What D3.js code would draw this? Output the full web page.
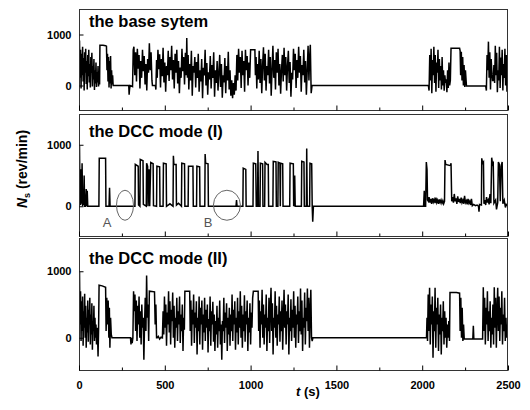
<!DOCTYPE html>
<html>
<head>
<meta charset="utf-8">
<script src="https://cdn.jsdelivr.net/npm/d3@7"></script>
<style>
  body { margin: 0; background: #fff; }
  svg { display: block; font-family: "Liberation Sans", Arial, sans-serif; }
</style>
</head>
<body>
<svg id="chart" width="530" height="410"></svg>
<script>
// time axis ticks
const xMajor = [0, 500, 1000, 1500, 2000, 2500];
const xMinor = [250, 750, 1250, 1750, 2250];
const yTicks = [0, 1000];

const titles = ['the base sytem', 'the DCC mode (I)', 'the DCC mode (II)'];

// [t (s), Ns (rev/min)]
const baseSystem = [
  [0,250],[3,880],[6,150],[9,700],[12,-60],[15,620],[18,200],[21,760],[24,80],[27,540],[30,-100],[33,650],[36,250],[39,720],[42,30],[45,480],[48,-80],[51,600],[54,180],[57,700],[60,60],[63,420],[66,-40],[69,560],[72,250],[75,640],[78,-20],[81,380],[84,120],[87,520],[90,-90],[93,300],[96,40],[99,450],[102,-30],[105,260],[108,60],[111,380],[114,-20],[117,200],[120,20],
  [122,790],[140,790],[155,780],[160,770],[163,300],[166,620],[169,80],[172,560],[175,-40],[178,480],[181,40],[184,580],[187,-60],[190,300],[193,20],[196,200],[199,0],
  [290,0],[292,-180],[295,-60],[298,0],[312,-20],[316,700],
  [320,760],[325,200],[330,650],[335,80],[340,720],[345,330],[350,600],[355,-60],[360,480],[365,150],[370,700],[375,280],[380,580],[385,20],[390,420],[395,-100],[400,520],[405,250],[410,830],[415,300],[420,650],[425,100],[428,0],[445,0],[448,-80],
  [452,500],[456,150],[460,700],[465,320],[470,610],[475,-40],[480,520],[485,180],[490,740],[495,60],[500,450],[505,-120],[510,380],[515,200],[520,680],[525,90],[530,560],[535,300],[540,780],[545,120],[550,500],[555,-60],[560,620],[565,250],[570,700],[575,40],[580,480],[585,-150],[590,350],[595,150],[600,720],[605,280],[610,560],[615,20],[620,640],[625,200],[628,930],[632,150],[636,600],[640,-80],
  [645,420],[650,100],[655,680],[660,-200],[665,380],[670,250],[675,560],[680,-40],[685,460],[690,150],[695,620],[700,-120],[705,300],[710,80],[715,520],[720,-250],[725,350],[730,200],[735,700],[740,0],[745,440],[750,-180],[755,260],[760,120],[765,580],[770,-60],[775,400],[780,150],[785,650],[790,-220],[795,300],[800,50],[805,480],[810,-100],[815,250],[820,600],[825,-30],[830,420],[835,-240],[840,200],[845,60],[850,540],[855,-150],[860,380],[865,100],[870,660],[875,-80],[880,300],[885,-200],[890,100],[895,-250],[900,50],[905,-180],[910,200],[915,-100],
  [920,600],[925,100],[930,720],[935,250],[940,560],[945,-50],[950,680],[955,200],[960,480],[965,-120],[970,700],[975,300],[980,580],[985,0],[990,450],[995,150],[1000,700],[1025,700],[1028,200],[1032,560],[1036,-60],[1040,420],[1045,120],[1050,680],[1055,50],[1060,520],[1065,-150],[1070,400],[1075,750],[1080,100],[1085,620],[1090,-100],[1095,380],[1100,200],[1105,700],[1110,40],[1115,560],[1120,-200],[1125,300],[1130,780],[1135,150],[1140,500],[1145,-80],[1150,650],[1155,250],[1160,720],[1165,0],[1170,420],[1175,-160],[1180,300],[1185,600],[1190,80],[1195,740],[1200,200],
  [1205,560],[1210,-100],[1215,380],[1220,680],[1225,50],[1230,460],[1235,-220],[1240,250],[1245,120],[1250,720],[1255,300],[1260,620],[1265,-50],[1270,500],[1275,150],[1280,760],[1285,250],[1290,580],[1295,-120],[1300,400],[1305,200],[1310,700],[1315,60],[1320,480],[1325,-180],[1330,300],[1335,780],[1340,100],[1344,560],[1348,800],[1353,-150],[1358,0],
  [2036,0],[2040,-100],[2044,600],[2048,100],[2052,720],[2056,-150],[2060,500],[2064,200],[2068,760],[2072,50],[2076,600],[2080,-120],[2084,450],[2088,250],[2092,700],[2096,-50],[2100,520],[2104,100],[2108,380],[2112,-80],[2116,560],[2120,0],[2124,300],[2128,-100],[2132,200],[2136,50],[2140,120],[2144,-130],[2148,300],[2152,-50],[2156,450],[2160,0],[2164,100],[2168,730],[2218,730],[2221,680],[2224,200],[2228,660],[2232,100],[2236,560],[2240,0],[2244,400],[2248,-30],[2252,300],[2258,-10],
  [2370,-10],[2374,-100],[2378,600],[2382,300],[2386,860],[2390,150],[2394,650],[2398,-80],[2402,520],[2406,250],[2410,100],[2414,100],[2418,400],[2422,50],[2426,780],[2430,200],[2434,640],[2438,-130],[2442,300],[2446,100],[2450,760],[2454,-50],[2458,550],[2462,200],[2466,700],[2470,-100],[2474,420],[2478,150],[2482,720],[2486,0],[2490,600],[2494,-120],[2498,300],[2500,200]
];

const dccOne = [
  [0,0],[3,980],[6,50],[9,20],[12,600],[15,40],[18,700],[21,0],[24,150],[27,20],[30,500],[33,0],[38,0],[42,280],[45,0],[48,250],[51,0],[56,0],
  [116,0],[118,780],[155,780],[157,0],[175,0],[178,300],[181,0],
  [326,0],[328,680],[345,650],[347,20],[355,0],[357,760],[373,740],[375,30],[392,0],[394,700],[400,650],[402,0],[408,600],[412,0],[418,710],[432,690],[434,10],[452,0],[454,650],[470,640],[472,0],[490,0],[492,700],[508,690],[510,0],[530,40],[548,0],[550,820],[553,680],[566,680],[568,20],[580,50],[597,0],[599,700],[615,690],[617,0],[636,0],[638,650],[664,650],[666,0],[685,0],[687,650],[703,640],[705,0],[733,0],[735,850],[738,700],[752,690],[754,0],
  [783,0],[915,0],[918,100],[921,0],[955,0],[957,620],[972,600],[974,0],[1014,0],[1016,700],[1030,690],[1033,0],[1040,0],[1043,900],[1046,0],[1055,0],[1057,700],[1070,690],[1072,0],[1082,0],[1084,715],[1096,680],[1103,680],[1105,0],[1130,0],[1132,730],[1148,720],[1150,0],[1159,0],[1161,715],[1171,700],[1173,0],[1175,700],[1187,690],[1189,0],[1228,0],[1230,700],[1249,690],[1251,0],[1257,500],[1260,0],[1296,0],[1298,730],[1311,720],[1313,0],[1325,0],[1327,940],[1330,0],[1344,0],[1346,700],[1356,690],[1359,0],[1362,-250],[1366,0],
  [2008,0],[2012,250],[2015,0],[2020,0],[2024,720],[2028,600],[2031,100],[2036,80],[2040,150],[2045,60],[2050,120],[2055,40],[2060,130],[2065,70],[2070,110],[2075,50],[2080,140],[2085,60],[2090,100],[2095,40],[2100,110],[2105,60],[2110,100],[2115,50],[2120,90],[2125,40],[2130,80],[2133,750],[2137,680],[2165,660],[2168,700],[2172,80],
  [2177,150],[2182,60],[2187,200],[2192,80],[2197,130],[2202,40],[2207,160],[2212,70],[2217,120],[2222,50],[2227,140],[2232,60],[2237,100],[2242,40],[2247,170],[2252,60],[2257,90],[2262,30],[2267,120],[2272,50],[2277,80],[2282,20],[2287,120],[2292,10],[2300,30],[2310,10],[2320,20],[2328,0],[2331,-90],[2334,30],[2345,20],[2347,780],[2352,700],[2357,720],[2360,40],[2365,100],[2370,20],[2375,150],[2380,60],[2385,100],[2390,30],[2395,200],[2400,50],[2405,790],[2410,680],[2414,700],[2418,50],[2428,100],[2433,-50],[2440,60],[2444,720],[2450,680],[2455,80],[2460,650],[2466,720],[2470,40],[2478,100],[2485,-20],[2490,30],[2500,0]
];

const dccTwo = [
  [0,50],[3,990],[6,200],[9,700],[12,-50],[15,550],[18,100],[21,620],[24,-120],[27,400],[30,150],[33,660],[36,0],[39,480],[42,-150],[45,300],[48,80],[51,560],[54,-60],[57,420],[60,200],[63,600],[66,-100],[69,350],[72,50],[75,520],[78,-180],[81,250],[84,100],[87,480],[90,-50],[93,300],[96,0],[99,200],[102,-100],[105,150],[108,50],[111,-280],[114,100],
  [117,790],[135,780],[155,760],[158,100],[162,600],[166,200],[170,560],[174,0],[177,450],[180,-150],[184,300],[188,50],[192,0],
  [300,0],[303,-100],[306,0],[310,-80],[314,0],[318,700],[322,400],[326,650],[330,100],[334,560],[338,-50],[342,480],[346,200],[350,620],[354,0],[358,400],[362,-100],[366,500],[370,150],[374,300],[378,-330],[382,200],[386,600],[390,100],[394,935],[398,300],[402,500],[406,-50],[410,700],[440,690],[444,200],[448,500],[452,0],[456,0],[462,20],[470,-20],[478,10],[486,0],
  [490,400],[494,50],[498,620],[502,150],[506,500],[510,-120],[514,380],[518,200],[522,700],[526,80],[530,550],[534,-100],[538,420],[542,250],[546,680],[550,0],[554,480],[558,-150],[562,300],[566,150],[570,600],[574,-50],[578,400],[582,200],[586,620],[590,-80],[594,350],[598,100],[602,500],[606,-200],[610,300],[614,120],[617,700],[645,700],[648,100],
  [652,560],[656,-120],[660,420],[664,200],[668,650],[672,-80],[676,380],[680,150],[684,550],[688,-250],[692,300],[696,100],[700,620],[704,-100],[708,450],[712,200],[716,560],[720,-180],[724,350],[728,80],[732,600],[736,-50],[740,420],[744,150],[748,500],[752,-220],[756,280],[760,100],[764,620],[768,-120],[772,400],[776,200],[780,540],[784,-60],[788,350],[792,-200],[796,250],[800,50],[804,480],[808,-150],[812,300],[816,100],[820,560],[824,-100],[828,200],[832,-330],[836,250],[840,100],[844,600],[848,-80],[852,380],[856,150],[860,520],[864,-200],[868,300],[872,50],[876,450],[880,-120],
  [884,350],[888,100],[892,650],[896,-50],[900,420],[904,200],[908,550],[912,-180],[916,300],[920,80],[924,600],[928,-100],[932,400],[936,150],[940,700],[944,0],[948,480],[952,-150],[956,350],[960,100],[964,640],[968,-60],[972,400],[976,200],[980,560],[984,-200],[988,300],[992,80],[996,520],[1000,-100],[1004,380],[1008,150],[1012,600],[1016,700],[1044,700],[1047,100],
  [1051,560],[1055,-150],[1059,400],[1063,200],[1067,720],[1071,0],[1075,500],[1079,-100],[1083,350],[1087,150],[1091,650],[1095,-200],[1099,300],[1103,100],[1107,600],[1111,-80],[1115,450],[1119,750],[1123,100],[1127,520],[1131,-250],[1135,300],[1139,150],[1143,700],[1147,0],[1151,480],[1155,-120],[1159,350],[1163,200],[1167,620],[1171,-60],[1175,400],[1179,100],[1183,560],[1187,-180],[1191,300],[1195,720],[1199,150],[1203,500],[1207,-100],[1211,400],[1215,200],[1219,650],[1223,-250],[1227,300],[1231,100],[1235,580],[1239,-50],[1243,420],[1247,150],[1251,700],[1255,0],[1259,480],[1263,-150],[1267,350],[1271,200],[1275,620],[1279,-80],[1283,400],[1287,100],[1291,740],[1295,50],[1299,560],[1303,-200],[1307,300],[1311,150],[1315,680],[1319,-100],[1323,450],[1327,250],[1331,740],[1335,100],[1339,600],[1343,-150],[1347,400],[1351,720],[1355,0],[1359,-50],[1363,0],
  [2025,0],[2028,300],[2031,-50],[2035,650],[2039,100],[2043,750],[2047,-100],[2051,500],[2055,200],[2059,620],[2063,-300],[2067,400],[2071,100],[2075,750],[2079,-150],[2083,450],[2087,200],[2091,600],[2095,-200],[2099,350],[2103,50],[2107,500],[2111,-250],[2115,300],[2119,100],[2123,550],[2127,-100],[2131,400],[2135,0],[2139,300],[2143,-150],[2147,200],[2151,0],[2155,250],[2159,-50],
  [2162,680],[2200,680],[2218,670],[2221,100],[2225,600],[2229,0],[2233,450],[2237,-50],[2241,200],[2245,-20],[2295,-20],[2298,180],[2301,-20],[2352,-20],
  [2356,760],[2360,100],[2364,600],[2368,-100],[2372,450],[2376,200],[2380,700],[2384,-50],[2388,400],[2392,100],[2396,550],[2400,-150],[2404,300],[2408,50],[2412,500],[2416,-100],[2420,760],[2424,150],[2428,600],[2432,-150],[2436,400],[2440,750],[2444,100],[2448,620],[2452,-50],[2456,450],[2460,200],[2464,700],[2468,-100],[2472,350],[2476,100],[2480,600],[2484,-50],[2488,300],[2492,0],[2496,200],[2500,0]
];

// circled regions in the DCC (I) panel: [label, t centre, label t]
const marks = [['A', 268, 163], ['B', 862, 752]];

const svg = d3.select('#chart');
const left = 79, right = 508;

const x = d3.scaleLinear().domain([0, 2500]).range([left, right]);

const panels = [
  { title: titles[0], data: baseSystem, top: 9, bottom: 111, titleY: 27 },
  { title: titles[1], data: dccOne, top: 114, bottom: 237, titleY: 137 },
  { title: titles[2], data: dccTwo, top: 238, bottom: 371, titleY: 264 }
];

panels.forEach((p, i) => {
  const y = d3.scaleLinear().domain([-500, 1500]).range([p.bottom, p.top]);
  const last = i === panels.length - 1;

  const clipId = 'clip' + i;
  svg.append('clipPath').attr('id', clipId)
    .append('rect')
    .attr('x', left).attr('y', p.top)
    .attr('width', right - left).attr('height', p.bottom - p.top);

  // trace
  const line = d3.line()
    .x(d => x(d[0]))
    .y(d => y(d[1]));

  svg.append('path')
    .datum(p.data)
    .attr('clip-path', `url(#${clipId})`)
    .attr('fill', 'none')
    .attr('stroke', '#000')
    .attr('stroke-width', 1.5)
    .attr('stroke-linejoin', 'miter')
    .attr('d', line);

  // frame
  svg.append('rect')
    .attr('x', left + 0.5).attr('y', p.top + 0.5)
    .attr('width', right - left - 1).attr('height', p.bottom - p.top - 1)
    .attr('fill', 'none')
    .attr('stroke', '#333')
    .attr('stroke-width', 1);

  // bottom ticks, pointing inward
  const xAxis = svg.append('g')
    .attr('transform', `translate(0,${p.bottom - 0.5})`)
    .call(d3.axisBottom(x).tickValues(xMajor).tickSizeInner(-5).tickSizeOuter(0)
      .tickPadding(11).tickFormat(last ? d3.format('d') : () => ''));
  xAxis.select('.domain').remove();
  xAxis.selectAll('text')
    .attr('font-size', 11).attr('font-weight', 'bold').attr('fill', '#000')
    .attr('font-family', '"Liberation Sans", Arial, sans-serif');

  const xMin = svg.append('g')
    .attr('transform', `translate(0,${p.bottom - 0.5})`)
    .call(d3.axisBottom(x).tickValues(xMinor).tickSizeInner(-3).tickSizeOuter(0).tickFormat(() => ''));
  xMin.select('.domain').remove();

  // left ticks
  const yAxis = svg.append('g')
    .attr('transform', `translate(${left + 0.5},0)`)
    .call(d3.axisLeft(y).tickValues(yTicks).tickSizeInner(-4).tickSizeOuter(0)
      .tickPadding(8).tickFormat(d3.format('d')));
  yAxis.select('.domain').remove();
  yAxis.selectAll('text')
    .attr('font-size', 11).attr('font-weight', 'bold').attr('fill', '#000')
    .attr('font-family', '"Liberation Sans", Arial, sans-serif');

  // panel title
  svg.append('text')
    .attr('x', 89).attr('y', p.titleY)
    .attr('font-size', 16.5)
    .attr('font-weight', 'bold')
    .text(p.title);

  // circled regions
  if (i === 1) {
    marks.forEach(([name, tc, tl], k) => {
      svg.append('ellipse')
        .attr('cx', x(tc)).attr('cy', y(0) - 1)
        .attr('rx', k === 0 ? 8.5 : 13.5).attr('ry', 15)
        .attr('fill', 'none')
        .attr('stroke', '#666')
        .attr('stroke-width', 1);
      svg.append('text')
        .attr('x', x(tl)).attr('y', y(0) + 21)
        .attr('text-anchor', 'middle')
        .attr('font-size', 13)
        .attr('fill', '#555')
        .text(name);
    });
  }
});

// axis titles
svg.append('text')
  .attr('x', 308).attr('y', 396)
  .attr('text-anchor', 'middle')
  .attr('font-size', 13).attr('font-weight', 'bold')
  .call(t => {
    t.append('tspan').attr('font-style', 'italic').text('t');
    t.append('tspan').text(' (s)');
  });

svg.append('text')
  .attr('transform', 'translate(27,169) rotate(-90)')
  .attr('text-anchor', 'middle')
  .attr('font-size', 14).attr('font-weight', 'bold')
  .call(t => {
    t.append('tspan').attr('font-style', 'italic').text('N');
    t.append('tspan').attr('font-size', 9).attr('dy', 3).text('s');
    t.append('tspan').attr('dy', -3).text(' (rev/min)');
  });
</script>
</body>
</html>
